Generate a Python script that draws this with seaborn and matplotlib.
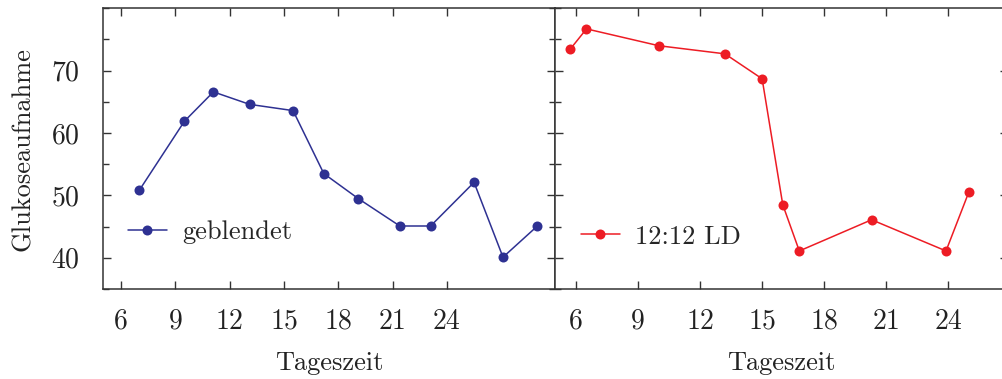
import matplotlib
matplotlib.use("Agg")
import matplotlib.pyplot as plt
from matplotlib.ticker import MultipleLocator, FixedLocator
import seaborn as sns
import pandas as pd

# Glucose uptake over the time of day
hours_blind = [7.0, 9.5, 11.1, 13.1, 15.5, 17.2, 19.1, 21.4, 23.1, 25.5, 27.1, 29.0]
uptake_blind = [50.8, 61.9, 66.6, 64.6, 63.6, 53.5, 49.5, 45.1, 45.1, 52.1, 40.1, 45.1]

hours_ld = [5.7, 6.5, 10.0, 13.2, 15.0, 16.0, 16.8, 20.3, 23.9, 25.0]
uptake_ld = [73.4, 76.7, 74.0, 72.7, 68.7, 48.5, 41.1, 46.1, 41.1, 50.5]

x_ticks = [6, 9, 12, 15, 18, 21, 24]
y_ticks = [40, 50, 60, 70]

label_blind = "geblendet"
label_ld = "12:12 LD"
x_title = "Tageszeit"
y_title = "Glukoseaufnahme"

sns.set_style("ticks")
plt.rcParams["font.family"] = "serif"
plt.rcParams["font.serif"] = ["cmr10"]
plt.rcParams["mathtext.fontset"] = "cm"
plt.rcParams["axes.formatter.use_mathtext"] = True

blue = "#2e3192"
red = "#ed1c24"
ink = "#333333"
text_col = "#222222"
fs = 19
tick_fs = 20

df_blind = pd.DataFrame({"h": hours_blind, "v": uptake_blind})
df_ld = pd.DataFrame({"h": hours_ld, "v": uptake_ld})

fig, (ax1, ax2) = plt.subplots(1, 2, sharey=True, figsize=(10.03, 3.79), dpi=100)
fig.subplots_adjust(left=103 / 1003, right=1008 / 1003, bottom=1 - 289 / 379,
                    top=1 - 8.3 / 379, wspace=0)

sns.lineplot(data=df_blind, x="h", y="v", ax=ax1, color=blue, marker="o",
             markersize=7.2, markeredgewidth=0, linewidth=1.1, label=label_blind)
sns.lineplot(data=df_ld, x="h", y="v", ax=ax2, color=red, marker="o",
             markersize=7.2, markeredgewidth=0, linewidth=1.1, label=label_ld)

ax1.set_xlim(5, 30)
ax2.set_xlim(5, 26.9)
ax1.set_ylim(35, 80)

for ax in (ax1, ax2):
    ax.xaxis.set_major_locator(FixedLocator(x_ticks))
    ax.set_xticklabels([str(t) for t in x_ticks])
    ax.yaxis.set_major_locator(FixedLocator(y_ticks))
    ax.yaxis.set_minor_locator(MultipleLocator(5))
    ax.tick_params(which="both", direction="in", top=True, right=True,
                   color=ink, width=1.0, labelsize=tick_fs, labelcolor=text_col)
    ax.tick_params(which="major", length=6)
    ax.tick_params(which="minor", length=4)
    ax.tick_params(axis="x", which="major", pad=14)
    ax.tick_params(axis="y", which="major", pad=16.5)
    for sp in ax.spines.values():
        sp.set_visible(True)
        sp.set_color(ink)
        sp.set_linewidth(1.1)
    ax.set_xlabel(x_title, fontsize=fs, color=text_col, labelpad=12)
    ax.legend(loc="center left", frameon=False, fontsize=fs, borderpad=0,
              handlelength=1.45, handletextpad=0.6, borderaxespad=0)

ax2.tick_params(axis="y", labelleft=False)
ax1.set_ylabel(y_title, fontsize=19, color=text_col)
ax1.yaxis.set_label_coords(-0.150, 0.5)
ax2.set_ylabel("")

ax1.legend_.set_bbox_to_anchor((0.056, 0.202))
ax2.legend_.set_bbox_to_anchor((0.057, 0.186))

fig.savefig("out.png", dpi=100)
